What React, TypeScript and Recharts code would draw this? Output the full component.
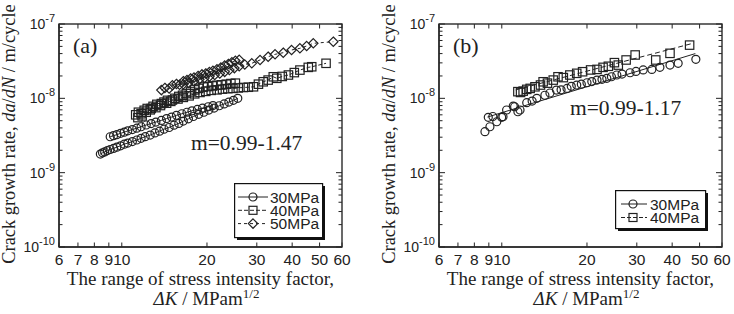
import React from 'react';
import { ScatterChart, Scatter, XAxis, YAxis, Legend } from 'recharts';

const SERIF = '"Liberation Serif", "Times New Roman", serif';
const SANS = '"Liberation Sans", Arial, Helvetica, sans-serif';
const INK = '#222';
const FRAME = '#2a2a2a';

// ---------- axes ----------
const xDomain: [number, number] = [6, 60];
const yDomain: [number, number] = [1e-10, 1e-7];
const xTicks = [6, 7, 8, 9, 10, 20, 30, 40, 50, 60];
const yTicks = [
  1e-10, 2e-10, 3e-10, 4e-10, 5e-10, 6e-10, 7e-10, 8e-10, 9e-10,
  1e-9, 2e-9, 3e-9, 4e-9, 5e-9, 6e-9, 7e-9, 8e-9, 9e-9,
  1e-8, 2e-8, 3e-8, 4e-8, 5e-8, 6e-8, 7e-8, 8e-8, 9e-8,
  1e-7,
];
const yMajorTicks = [1e-10, 1e-9, 1e-8, 1e-7];
const yMajorExponents = ['-10', '-9', '-8', '-7'];

// ---------- panel (a) data : [ΔK, da/dN] ----------
const a30Run1: [number, number][] = [
  [8.4, 1.78e-9], [8.55, 1.85e-9], [8.7, 1.9e-9], [8.9, 1.98e-9], [9.1, 2.05e-9], [9.35, 2.12e-9],
  [9.6, 2.2e-9], [9.9, 2.3e-9], [10.2, 2.42e-9], [10.5, 2.5e-9], [10.9, 2.62e-9], [11.3, 2.75e-9],
  [11.7, 2.9e-9], [12.1, 3.05e-9], [12.6, 3.2e-9], [13.1, 3.42e-9], [13.6, 3.62e-9], [14.1, 3.85e-9],
  [14.7, 4.05e-9], [15.3, 4.35e-9], [15.9, 4.6e-9], [16.5, 4.95e-9], [17.2, 5.3e-9], [17.9, 5.7e-9],
  [18.7, 6.1e-9], [19.5, 6.5e-9], [20.3, 6.95e-9], [21.2, 7.4e-9], [22.1, 7.95e-9], [23.0, 8.4e-9],
  [23.9, 8.9e-9], [24.8, 9.4e-9], [25.7, 1.0e-8],
];
const a30Run2: [number, number][] = [
  [9.1, 3.04e-9], [9.35, 3.15e-9], [9.6, 3.24e-9], [9.9, 3.38e-9], [10.2, 3.5e-9], [10.5, 3.65e-9],
  [10.9, 3.8e-9], [11.3, 3.97e-9], [11.7, 4.15e-9], [12.2, 4.38e-9], [12.7, 4.58e-9], [13.2, 4.8e-9],
  [13.8, 5.05e-9], [14.4, 5.35e-9], [15.0, 5.6e-9], [15.6, 5.9e-9], [16.3, 6.2e-9], [17.0, 6.5e-9],
  [17.7, 6.8e-9], [18.5, 7.1e-9], [19.3, 7.4e-9], [20.2, 7.7e-9], [21.0, 8.0e-9],
];
const a40Run1: [number, number][] = [
  [11.2, 6.0e-9], [11.45, 6.5e-9], [11.7, 6.2e-9], [12.0, 6.9e-9], [12.3, 7.3e-9], [12.6, 7.0e-9],
  [12.9, 7.8e-9], [13.3, 8.3e-9], [13.7, 8.0e-9], [14.1, 8.9e-9], [14.5, 9.4e-9], [14.9, 9.1e-9],
  [15.4, 1.0e-8], [15.9, 1.06e-8], [16.4, 1.1e-8], [16.9, 1.16e-8], [17.5, 1.22e-8], [18.1, 1.3e-8],
  [18.7, 1.36e-8], [19.4, 1.42e-8], [20.1, 1.44e-8], [20.9, 1.47e-8], [21.7, 1.5e-8], [22.5, 1.52e-8],
  [23.4, 1.55e-8], [24.3, 1.58e-8], [25.2, 1.6e-8],
];
const a40Run2: [number, number][] = [
  [11.4, 5.5e-9], [11.8, 5.8e-9], [12.2, 6.5e-9], [12.7, 7.3e-9], [13.2, 7.5e-9], [13.8, 8.5e-9],
  [14.4, 8.6e-9], [15.1, 9.5e-9], [15.8, 9.8e-9], [16.5, 1.03e-8], [17.3, 1.08e-8], [18.1, 1.15e-8],
  [18.9, 1.2e-8], [19.8, 1.24e-8], [20.7, 1.28e-8], [21.7, 1.3e-8], [22.7, 1.33e-8], [23.7, 1.35e-8],
  [24.7, 1.36e-8], [25.8, 1.38e-8], [26.9, 1.4e-8], [28.0, 1.41e-8], [29.2, 1.43e-8], [30.4, 1.55e-8],
  [31.6, 1.67e-8], [32.9, 1.76e-8], [34.3, 1.95e-8], [35.3, 1.86e-8], [36.9, 1.97e-8], [38.8, 2.06e-8],
  [40.7, 2.22e-8], [42.6, 2.4e-8], [45.6, 2.61e-8], [46.9, 2.66e-8], [52.7, 2.96e-8],
];
const a50Run1: [number, number][] = [
  [13.8, 1.29e-8], [14.2, 1.38e-8], [14.7, 1.36e-8], [15.1, 1.5e-8], [15.6, 1.56e-8], [16.0, 1.52e-8],
  [16.5, 1.7e-8], [17.0, 1.76e-8], [17.5, 1.85e-8], [18.0, 1.9e-8], [18.6, 2.0e-8], [19.2, 2.1e-8],
  [19.8, 2.16e-8], [20.4, 2.26e-8], [21.0, 2.35e-8], [21.7, 2.46e-8], [22.4, 2.6e-8], [23.1, 2.76e-8],
  [23.8, 2.9e-8], [24.5, 3.05e-8], [25.2, 3.2e-8], [26.0, 3.3e-8],
];
const a50Run2: [number, number][] = [
  [16.5, 1.55e-8], [17.2, 1.62e-8], [18.0, 1.7e-8], [18.8, 1.8e-8], [19.6, 1.88e-8], [20.4, 1.96e-8],
  [21.3, 2.06e-8], [22.2, 2.16e-8], [23.1, 2.27e-8], [24.0, 2.4e-8], [25.0, 2.55e-8], [26.0, 2.7e-8],
  [27.2, 2.85e-8], [28.8, 2.96e-8], [30.8, 3.28e-8], [32.9, 3.63e-8], [34.8, 3.91e-8], [37.2, 4.11e-8],
  [39.8, 4.47e-8], [42.6, 4.71e-8], [45.0, 5.06e-8], [47.5, 5.5e-8], [55.9, 5.78e-8],
];

// ---------- panel (b) data ----------
const b30Points: [number, number][] = [
  [8.72, 3.56e-9], [9.08, 4.15e-9], [8.96, 5.55e-9], [9.6, 4.84e-9], [9.3, 5.7e-9], [9.99, 5.55e-9],
  [10.1, 5.66e-9], [10.4, 6.97e-9], [10.98, 7.87e-9], [11.1, 7.7e-9], [11.4, 6.6e-9], [11.6, 6.97e-9],
  [12.25, 8.73e-9], [12.8, 9.2e-9], [13.3, 1.0e-8], [14.2, 1.1e-8], [14.8, 1.18e-8], [15.6, 1.29e-8],
  [16.2, 1.3e-8], [17.0, 1.36e-8], [17.6, 1.45e-8], [18.4, 1.51e-8], [19.1, 1.55e-8], [20.0, 1.62e-8],
  [20.8, 1.68e-8], [21.7, 1.76e-8], [22.6, 1.8e-8], [23.5, 1.86e-8], [24.4, 1.95e-8], [25.5, 2.06e-8],
  [26.6, 2.12e-8], [28.4, 2.21e-8], [29.8, 2.3e-8], [31.6, 2.41e-8], [33.9, 2.45e-8], [36.2, 2.61e-8],
  [39.3, 2.8e-8], [42.0, 2.96e-8], [48.5, 3.35e-8],
];
const b40Points: [number, number][] = [
  [11.4, 1.23e-8], [11.65, 1.2e-8], [11.9, 1.25e-8], [12.25, 1.32e-8], [12.6, 1.36e-8], [13.1, 1.43e-8],
  [13.7, 1.51e-8], [14.0, 1.67e-8], [14.5, 1.6e-8], [15.2, 1.76e-8], [15.8, 1.95e-8], [16.5, 1.9e-8],
  [17.4, 2.06e-8], [18.4, 2.17e-8], [19.3, 2.28e-8], [20.6, 2.41e-8], [21.7, 2.45e-8], [22.8, 2.61e-8],
  [23.8, 2.7e-8], [25.0, 3.02e-8], [25.8, 2.8e-8], [27.5, 3.28e-8], [29.6, 3.83e-8], [35.0, 3.28e-8],
  [39.3, 4.03e-8], [46.1, 5.2e-8],
];
const b30Fit: [number, number][] = [[8.9, 5.6e-9], [48.3, 4.0e-8]];
const b40Fit: [number, number][] = [[11.2, 1.3e-8], [46.5, 5.4e-8]];

// ---------- legend ----------
const legendA = [
  { label: '30MPa', marker: 'circle', dash: '' },
  { label: '40MPa', marker: 'square', dash: '4 2' },
  { label: '50MPa', marker: 'diamond', dash: '3 3' },
];
const legendB = [
  { label: '30MPa', marker: 'circle', dash: '' },
  { label: '40MPa', marker: 'square', dash: '4 2' },
];

// ---------- layout constants ----------
const PLOT_TOP = 24;
const PLOT_BOTTOM = 247;
const PLOT_LEFT = 59;
const PLOT_W = 283;
const PLOT_RIGHT = PLOT_LEFT + PLOT_W;
const PANEL_LEFTS = [0, 380];

const toPts = (arr: [number, number][]) => arr.map(([k, v]) => ({ k, v }));

const Marker = ({ kind, cx, cy, s }: { kind: string; cx: number; cy: number; s: number }) => {
  if (kind === 'circle') return <circle cx={cx} cy={cy} r={s} fill="none" stroke={INK} strokeWidth={1.2} />;
  if (kind === 'square')
    return <rect x={cx - s} y={cy - s} width={2 * s} height={2 * s} fill="none" stroke={INK} strokeWidth={1.2} />;
  if (kind === 'diamond') {
    const d = s * 1.3;
    return (
      <polygon
        points={`${cx},${cy - d} ${cx + d},${cy} ${cx},${cy + d} ${cx - d},${cy}`}
        fill="none"
        stroke={INK}
        strokeWidth={1.2}
      />
    );
  }
  return null;
};

const makeShape = (kind: string, s: number) => (p: any) => {
  if (p == null || p.cx == null || kind === 'none') return <g />;
  return <Marker kind={kind} cx={p.cx} cy={p.cy} s={s} />;
};

const XTick = (props: any) => {
  const { x, payload } = props;
  return (
    <g>
      <line x1={x} x2={x} y1={PLOT_BOTTOM} y2={PLOT_BOTTOM - 4.5} stroke={INK} strokeWidth={1} />
      <line x1={x} x2={x} y1={PLOT_TOP} y2={PLOT_TOP + 4.5} stroke={INK} strokeWidth={1} />
      <text x={x} y={PLOT_BOTTOM + 18} textAnchor="middle" fontFamily={SANS} fontSize={15.5} fill={INK}>
        {payload.value}
      </text>
    </g>
  );
};

const YTick = (props: any) => {
  const { y, payload } = props;
  const idx = yMajorTicks.findIndex((m) => Math.abs(payload.value / m - 1) < 1e-6);
  const major = idx >= 0;
  const len = major ? 6 : 3.5;
  return (
    <g>
      <line x1={PLOT_LEFT} x2={PLOT_LEFT + len} y1={y} y2={y} stroke={INK} strokeWidth={1} />
      <line x1={PLOT_RIGHT} x2={PLOT_RIGHT - len} y1={y} y2={y} stroke={INK} strokeWidth={1} />
      {major && (
        <text x={55} y={y + 5} textAnchor="end" fontFamily={SANS} fill={INK}>
          <tspan fontSize={14}>10</tspan>
          <tspan fontSize={11} dy={-7}>
            {yMajorExponents[idx]}
          </tspan>
        </text>
      )}
    </g>
  );
};

const YTitle = () => (
  <text transform="translate(15,134) rotate(-90)" textAnchor="middle" fontFamily={SERIF} fontSize={18.4} fill={INK}>
    {'Crack growth rate, '}
    <tspan fontStyle="italic">da</tspan>
    {'/'}
    <tspan fontStyle="italic">dN</tspan>
    {' / m/cycle'}
  </text>
);

const makeXTitle = (letter: string, slope: string, slopeX: number, slopeY: number) => () => (
  <g>
    <text x={PLOT_LEFT + PLOT_W / 2} y={285} textAnchor="middle" fontFamily={SERIF} fontSize={19} fill={INK}>
      The range of stress intensity factor,
    </text>
    <text x={PLOT_LEFT + PLOT_W / 2 + 6} y={305} textAnchor="middle" fontFamily={SERIF} fontSize={19} fill={INK}>
      <tspan fontStyle="italic">{'ΔK'}</tspan>
      {' / MPam'}
      <tspan fontSize={13} dy={-7}>
        1/2
      </tspan>
    </text>
    <text x={PLOT_LEFT + 14} y={53} fontFamily={SERIF} fontSize={22} fill={INK}>
      {letter}
    </text>
    <text x={slopeX} y={slopeY} fontFamily={SERIF} fontSize={21.5} fill={INK}>
      {slope}
    </text>
  </g>
);

const LegendBox = ({ entries, w, h, rowY, lineX0, lineX1, markX, textX }: any) => (
  <svg width={w + 4} height={h + 4} style={{ display: 'block' }}>
    <rect x={3} y={3} width={w} height={h} fill="#111" />
    <rect x={0.6} y={0.6} width={w} height={h} fill="#fff" stroke="#111" strokeWidth={1.2} />
    {entries.map((e: any, i: number) => (
      <g key={e.label}>
        <line
          x1={lineX0}
          x2={lineX1}
          y1={rowY[i]}
          y2={rowY[i]}
          stroke={INK}
          strokeWidth={1}
          strokeDasharray={e.dash || undefined}
        />
        <Marker kind={e.marker} cx={markX} cy={rowY[i]} s={e.marker === 'diamond' ? 3.6 : 4} />
        <text x={textX} y={rowY[i] + 5.5} fontFamily={SANS} fontSize={15.5} fill={INK}>
          {e.label}
        </text>
      </g>
    ))}
  </svg>
);

type SeriesDef = { name: string; data: [number, number][]; kind: string; size: number; dash?: string; line: boolean };

const seriesA: SeriesDef[] = [
  { name: '30MPa-1', data: a30Run1, kind: 'circle', size: 4, line: true },
  { name: '30MPa-2', data: a30Run2, kind: 'circle', size: 4, line: true },
  { name: '40MPa-1', data: a40Run1, kind: 'square', size: 4.2, dash: '4 2', line: true },
  { name: '40MPa-2', data: a40Run2, kind: 'square', size: 4.2, dash: '4 2', line: true },
  { name: '50MPa-1', data: a50Run1, kind: 'diamond', size: 3.6, dash: '3 3', line: true },
  { name: '50MPa-2', data: a50Run2, kind: 'diamond', size: 3.6, dash: '3 3', line: true },
];
const seriesB: SeriesDef[] = [
  { name: '30MPa', data: b30Points, kind: 'circle', size: 4, line: false },
  { name: '40MPa', data: b40Points, kind: 'square', size: 4.2, line: false },
  { name: '30MPa fit', data: b30Fit, kind: 'none', size: 0, line: true },
  { name: '40MPa fit', data: b40Fit, kind: 'none', size: 0, dash: '5 3', line: true },
];

const Panel = ({
  width,
  series,
  letter,
  slope,
  slopeX,
  slopeY,
  legend,
}: {
  width: number;
  series: SeriesDef[];
  letter: string;
  slope: string;
  slopeX: number;
  slopeY: number;
  legend: any;
}) => (
  <ScatterChart width={width} height={314} margin={{ top: PLOT_TOP, right: width - PLOT_RIGHT, bottom: 0, left: 0 }}>
    <XAxis
      dataKey="k"
      type="number"
      scale="log"
      domain={xDomain}
      allowDataOverflow
      ticks={xTicks}
      interval={0}
      tick={<XTick />}
      tickLine={false}
      axisLine={{ stroke: FRAME, strokeWidth: 1.4 }}
      tickSize={0}
      tickMargin={0}
      height={314 - PLOT_BOTTOM}
      label={makeXTitle(letter, slope, slopeX, slopeY)}
    />
    <YAxis
      dataKey="v"
      type="number"
      scale="log"
      domain={yDomain}
      allowDataOverflow
      ticks={yTicks}
      interval={0}
      tick={<YTick />}
      tickLine={false}
      axisLine={{ stroke: FRAME, strokeWidth: 1.4 }}
      tickSize={0}
      tickMargin={0}
      width={PLOT_LEFT}
      label={YTitle}
    />
    {series.map((s) => (
      <Scatter
        key={s.name}
        name={s.name}
        data={toPts(s.data)}
        isAnimationActive={false}
        fill={INK}
        shape={makeShape(s.kind, s.size)}
        line={s.line ? { stroke: INK, strokeWidth: 1, strokeDasharray: s.dash } : false}
        lineType="joint"
        legendType="none"
      />
    ))}
    <Legend
      layout="vertical"
      align="center"
      verticalAlign="middle"
      wrapperStyle={{ left: legend.left, top: legend.top, width: legend.w + 4, height: legend.h + 4, lineHeight: 0 }}
      content={() => <LegendBox {...legend} />}
    />
  </ScatterChart>
);

// plot frames drawn on top of both panels
const Frames = () => (
  <svg
    width={734}
    height={314}
    style={{ position: 'absolute', left: 0, top: 0, pointerEvents: 'none' }}
  >
    {PANEL_LEFTS.map((l) => (
      <rect
        key={l}
        x={l + PLOT_LEFT}
        y={PLOT_TOP}
        width={PLOT_W}
        height={PLOT_BOTTOM - PLOT_TOP}
        fill="none"
        stroke={FRAME}
        strokeWidth={1.4}
      />
    ))}
  </svg>
);

export default function App() {
  return (
    <div style={{ position: 'absolute', left: 0, top: 0, width: 734, height: 314, background: '#fff' }}>
      <div style={{ position: 'absolute', left: PANEL_LEFTS[0], top: 0 }}>
        <Panel
          width={367}
          series={seriesA}
          letter="(a)"
          slope="m=0.99-1.47"
          slopeX={191}
          slopeY={150}
          legend={{
            entries: legendA,
            left: 234,
            top: 183,
            w: 88,
            h: 54,
            rowY: [14, 27.3, 40.6],
            lineX0: 4,
            lineX1: 34,
            markX: 19,
            textX: 36,
          }}
        />
      </div>
      <div style={{ position: 'absolute', left: PANEL_LEFTS[1], top: 0 }}>
        <Panel
          width={354}
          series={seriesB}
          letter="(b)"
          slope="m=0.99-1.17"
          slopeX={190}
          slopeY={115}
          legend={{
            entries: legendB,
            left: 235,
            top: 190,
            w: 90,
            h: 38,
            rowY: [14, 27.5],
            lineX0: 6,
            lineX1: 32,
            markX: 18,
            textX: 35,
          }}
        />
      </div>
      <Frames />
    </div>
  );
}
